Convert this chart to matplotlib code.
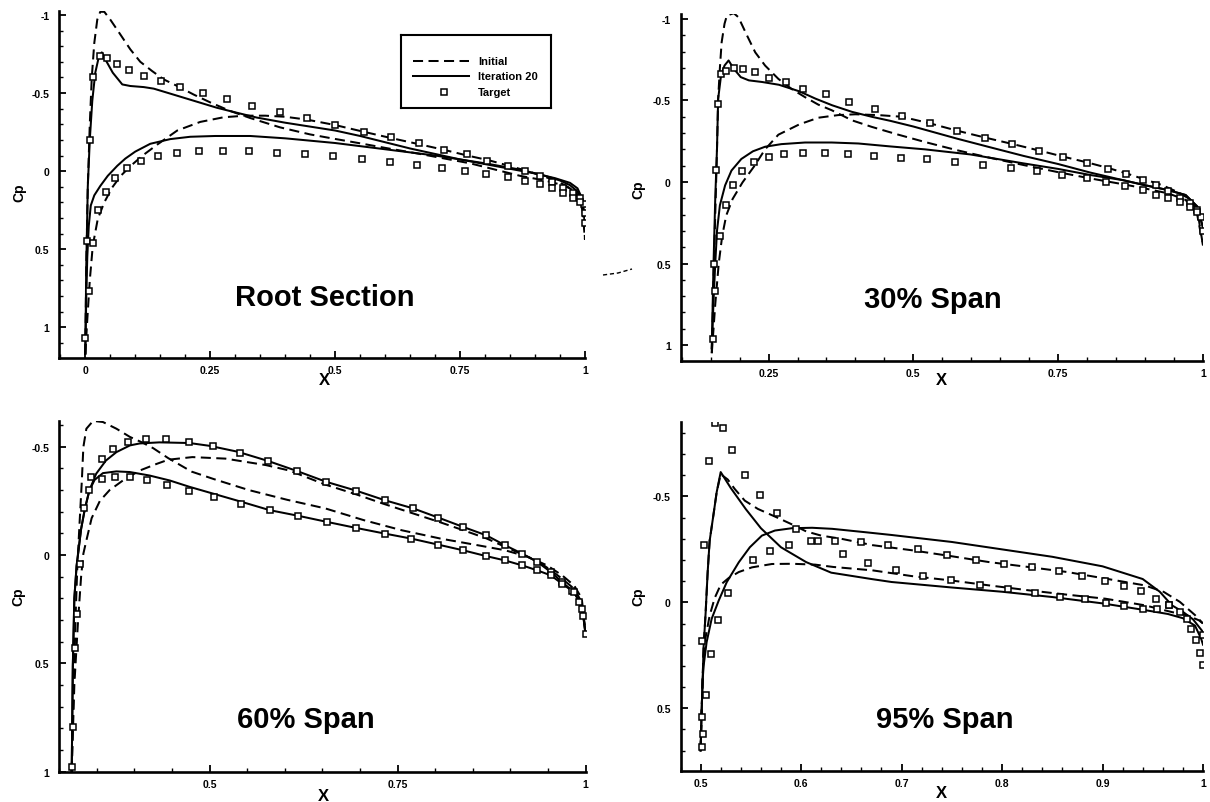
import matplotlib
matplotlib.use('Agg')
import matplotlib.pyplot as plt
from matplotlib.ticker import MultipleLocator, FuncFormatter
from matplotlib.lines import Line2D

plt.rcParams['font.family'] = ['Liberation Sans', 'DejaVu Sans']

# ---------------- data ----------------
series_labels = ['Initial', 'Iteration 20', 'Target']
panel_titles = ['Root Section', '30% Span', '60% Span', '95% Span']

# Root section
root_init_up_x = [0.0, 0.002, 0.005, 0.009, 0.013, 0.018, 0.024, 0.030, 0.038, 0.050, 0.068, 0.090, 0.110, 0.134, 0.157, 0.184, 0.217, 0.250, 0.290, 0.330, 0.390, 0.450, 0.500, 0.550, 0.600, 0.670, 0.720, 0.770, 0.820, 0.870, 0.920, 0.950, 0.970, 0.985, 0.995, 1.0]
root_init_up_cp = [1.17, 0.60, 0.10, -0.30, -0.60, -0.82, -0.97, -1.02, -1.02, -0.97, -0.885, -0.78, -0.70, -0.64, -0.587, -0.545, -0.49, -0.44, -0.385, -0.34, -0.28, -0.235, -0.206, -0.178, -0.149, -0.11, -0.08, -0.05, -0.01, 0.03, 0.06, 0.085, 0.11, 0.15, 0.25, 0.44]
root_init_lo_x = [0.0, 0.004, 0.009, 0.015, 0.025, 0.038, 0.054, 0.071, 0.091, 0.114, 0.144, 0.184, 0.230, 0.277, 0.320, 0.360, 0.400, 0.443, 0.500, 0.557, 0.613, 0.667, 0.717, 0.767, 0.807, 0.847, 0.880, 0.910, 0.940, 0.960, 0.980, 0.990, 0.997, 1.0]
root_init_lo_cp = [1.17, 0.95, 0.70, 0.477, 0.306, 0.20, 0.104, 0.03, -0.034, -0.098, -0.17, -0.26, -0.315, -0.345, -0.355, -0.355, -0.348, -0.33, -0.295, -0.252, -0.211, -0.173, -0.137, -0.098, -0.07, -0.035, -0.005, 0.025, 0.06, 0.09, 0.13, 0.18, 0.26, 0.44]
root_iter_up_x = [0.0, 0.002, 0.005, 0.009, 0.014, 0.020, 0.027, 0.033, 0.041, 0.055, 0.074, 0.090, 0.117, 0.137, 0.164, 0.197, 0.230, 0.263, 0.303, 0.343, 0.400, 0.450, 0.500, 0.550, 0.600, 0.650, 0.700, 0.750, 0.800, 0.850, 0.900, 0.940, 0.970, 0.985, 0.995, 1.0]
root_iter_up_cp = [1.17, 0.60, 0.10, -0.20, -0.45, -0.63, -0.73, -0.76, -0.71, -0.63, -0.555, -0.545, -0.538, -0.528, -0.502, -0.47, -0.438, -0.406, -0.374, -0.343, -0.31, -0.285, -0.26, -0.225, -0.185, -0.145, -0.11, -0.075, -0.045, -0.015, 0.015, 0.045, 0.075, 0.11, 0.18, 0.33]
root_iter_lo_x = [0.0, 0.002, 0.004, 0.007, 0.011, 0.018, 0.030, 0.045, 0.064, 0.080, 0.100, 0.130, 0.170, 0.210, 0.260, 0.330, 0.400, 0.500, 0.600, 0.700, 0.800, 0.870, 0.920, 0.950, 0.970, 0.985, 0.995, 1.0]
root_iter_lo_cp = [1.17, 0.80, 0.55, 0.35, 0.22, 0.155, 0.095, 0.03, -0.034, -0.08, -0.125, -0.175, -0.205, -0.22, -0.225, -0.225, -0.21, -0.18, -0.14, -0.10, -0.05, -0.01, 0.03, 0.06, 0.09, 0.13, 0.20, 0.33]
root_tgt_up_x = [0.0, 0.003, 0.010, 0.016, 0.030, 0.044, 0.064, 0.088, 0.117, 0.152, 0.190, 0.235, 0.283, 0.334, 0.389, 0.443, 0.500, 0.557, 0.611, 0.668, 0.717, 0.764, 0.804, 0.845, 0.880, 0.910, 0.933, 0.956, 0.975, 0.990, 0.998, 1.0]
root_tgt_up_cp = [1.07, 0.445, -0.20, -0.60, -0.735, -0.725, -0.683, -0.648, -0.61, -0.58, -0.54, -0.502, -0.46, -0.418, -0.377, -0.34, -0.295, -0.252, -0.22, -0.18, -0.137, -0.107, -0.066, -0.034, 0.0, 0.03, 0.068, 0.105, 0.137, 0.17, 0.21, 0.33]
root_tgt_lo_x = [0.007, 0.015, 0.025, 0.041, 0.060, 0.084, 0.112, 0.145, 0.184, 0.228, 0.275, 0.328, 0.383, 0.439, 0.496, 0.554, 0.610, 0.663, 0.714, 0.760, 0.802, 0.845, 0.880, 0.910, 0.933, 0.955, 0.975, 0.990, 1.0]
root_tgt_lo_cp = [0.77, 0.46, 0.247, 0.132, 0.047, -0.017, -0.062, -0.098, -0.117, -0.128, -0.13, -0.128, -0.119, -0.109, -0.094, -0.075, -0.058, -0.04, -0.017, 0.0, 0.02, 0.04, 0.062, 0.085, 0.11, 0.137, 0.17, 0.20, 0.265]

# 30% span
s30_init_up_x = [0.152, 0.155, 0.158, 0.161, 0.163, 0.166, 0.169, 0.174, 0.178, 0.190, 0.198, 0.213, 0.227, 0.244, 0.267, 0.290, 0.313, 0.336, 0.359, 0.394, 0.428, 0.474, 0.520, 0.575, 0.630, 0.690, 0.750, 0.805, 0.862, 0.900, 0.940, 0.970, 0.990, 1.0]
s30_init_up_cp = [1.05, 0.60, 0.20, -0.20, -0.51, -0.70, -0.856, -0.97, -1.02, -1.035, -1.01, -0.897, -0.795, -0.714, -0.632, -0.57, -0.52, -0.474, -0.44, -0.378, -0.338, -0.29, -0.245, -0.195, -0.15, -0.104, -0.06, -0.022, 0.014, 0.04, 0.07, 0.11, 0.20, 0.39]
s30_init_lo_x = [0.152, 0.158, 0.164, 0.170, 0.177, 0.188, 0.205, 0.226, 0.244, 0.267, 0.303, 0.336, 0.370, 0.400, 0.440, 0.480, 0.528, 0.575, 0.624, 0.672, 0.717, 0.759, 0.800, 0.837, 0.870, 0.900, 0.930, 0.955, 0.975, 0.990, 1.0]
s30_init_lo_cp = [1.05, 0.75, 0.50, 0.33, 0.205, 0.104, 0.003, -0.10, -0.20, -0.29, -0.353, -0.394, -0.41, -0.415, -0.41, -0.40, -0.36, -0.315, -0.272, -0.232, -0.193, -0.155, -0.12, -0.085, -0.05, -0.015, 0.02, 0.06, 0.10, 0.17, 0.39]
s30_iter_up_x = [0.152, 0.155, 0.158, 0.161, 0.163, 0.168, 0.174, 0.181, 0.190, 0.202, 0.216, 0.239, 0.268, 0.303, 0.331, 0.360, 0.394, 0.429, 0.460, 0.500, 0.575, 0.630, 0.690, 0.750, 0.805, 0.862, 0.900, 0.940, 0.970, 0.990, 1.0]
s30_iter_up_cp = [1.02, 0.505, 0.10, -0.205, -0.51, -0.653, -0.714, -0.745, -0.694, -0.643, -0.623, -0.613, -0.596, -0.556, -0.511, -0.47, -0.43, -0.399, -0.375, -0.34, -0.266, -0.215, -0.16, -0.11, -0.058, -0.011, 0.02, 0.05, 0.08, 0.15, 0.28]
s30_iter_lo_x = [0.152, 0.155, 0.158, 0.161, 0.166, 0.175, 0.186, 0.203, 0.223, 0.244, 0.272, 0.313, 0.359, 0.405, 0.460, 0.520, 0.598, 0.690, 0.750, 0.805, 0.862, 0.900, 0.940, 0.970, 0.990, 1.0]
s30_iter_lo_cp = [1.02, 0.73, 0.50, 0.30, 0.143, 0.021, -0.07, -0.141, -0.188, -0.216, -0.232, -0.242, -0.242, -0.236, -0.218, -0.20, -0.169, -0.114, -0.08, -0.043, -0.011, 0.02, 0.05, 0.08, 0.15, 0.28]
s30_tgt_up_x = [0.154, 0.155, 0.160, 0.163, 0.168, 0.177, 0.190, 0.206, 0.226, 0.250, 0.280, 0.310, 0.349, 0.389, 0.434, 0.480, 0.528, 0.575, 0.623, 0.670, 0.717, 0.758, 0.800, 0.836, 0.867, 0.896, 0.919, 0.940, 0.960, 0.977, 0.990, 0.997]
s30_tgt_up_cp = [0.96, 0.50, -0.073, -0.48, -0.66, -0.68, -0.70, -0.69, -0.672, -0.64, -0.614, -0.573, -0.538, -0.493, -0.45, -0.406, -0.359, -0.313, -0.27, -0.23, -0.19, -0.153, -0.117, -0.08, -0.049, -0.012, 0.018, 0.055, 0.096, 0.13, 0.171, 0.212]
s30_tgt_lo_x = [0.157, 0.166, 0.176, 0.188, 0.205, 0.225, 0.250, 0.277, 0.310, 0.348, 0.388, 0.432, 0.478, 0.524, 0.572, 0.620, 0.668, 0.713, 0.756, 0.799, 0.833, 0.866, 0.896, 0.919, 0.940, 0.960, 0.977, 0.990, 1.0]
s30_tgt_lo_cp = [0.67, 0.333, 0.14, 0.018, -0.069, -0.12, -0.155, -0.171, -0.177, -0.177, -0.169, -0.159, -0.15, -0.14, -0.124, -0.106, -0.087, -0.065, -0.043, -0.022, 0.0, 0.022, 0.049, 0.08, 0.10, 0.124, 0.151, 0.182, 0.30]

# 60% span
s60_init_up_x = [0.3165, 0.318, 0.320, 0.322, 0.324, 0.327, 0.330, 0.332, 0.336, 0.345, 0.358, 0.376, 0.394, 0.410, 0.425, 0.445, 0.476, 0.506, 0.552, 0.603, 0.654, 0.705, 0.756, 0.807, 0.857, 0.893, 0.924, 0.949, 0.969, 0.985, 0.995, 1.0]
s60_init_up_cp = [1.0, 0.75, 0.50, 0.25, 0.05, -0.15, -0.344, -0.498, -0.583, -0.619, -0.614, -0.583, -0.545, -0.52, -0.493, -0.447, -0.385, -0.35, -0.30, -0.255, -0.215, -0.161, -0.114, -0.076, -0.045, -0.022, 0.009, 0.048, 0.094, 0.141, 0.20, 0.357]
s60_init_lo_x = [0.3165, 0.320, 0.325, 0.329, 0.332, 0.336, 0.343, 0.354, 0.367, 0.385, 0.407, 0.429, 0.445, 0.477, 0.521, 0.575, 0.606, 0.654, 0.695, 0.730, 0.768, 0.806, 0.837, 0.868, 0.893, 0.918, 0.939, 0.954, 0.969, 0.985, 0.995, 1.0]
s60_init_lo_cp = [1.0, 0.60, 0.30, 0.10, -0.006, -0.067, -0.17, -0.25, -0.30, -0.345, -0.39, -0.42, -0.44, -0.452, -0.445, -0.415, -0.39, -0.325, -0.28, -0.238, -0.195, -0.152, -0.115, -0.077, -0.038, 0.0, 0.035, 0.07, 0.11, 0.156, 0.218, 0.357]
s60_iter_up_x = [0.3165, 0.318, 0.320, 0.323, 0.325, 0.329, 0.334, 0.340, 0.349, 0.362, 0.376, 0.394, 0.407, 0.433, 0.473, 0.500, 0.537, 0.577, 0.616, 0.655, 0.695, 0.733, 0.771, 0.804, 0.837, 0.868, 0.893, 0.916, 0.936, 0.954, 0.969, 0.985, 0.992, 0.997, 1.0]
s60_iter_up_cp = [1.0, 0.51, 0.20, 0.05, -0.006, -0.12, -0.213, -0.298, -0.375, -0.436, -0.475, -0.506, -0.515, -0.52, -0.517, -0.504, -0.477, -0.435, -0.388, -0.338, -0.297, -0.253, -0.215, -0.173, -0.13, -0.091, -0.045, -0.006, 0.032, 0.079, 0.125, 0.172, 0.218, 0.28, 0.365]
s60_iter_lo_x = [0.3165, 0.318, 0.320, 0.323, 0.325, 0.329, 0.334, 0.340, 0.347, 0.358, 0.376, 0.394, 0.420, 0.447, 0.473, 0.506, 0.542, 0.580, 0.618, 0.656, 0.695, 0.733, 0.768, 0.804, 0.837, 0.868, 0.893, 0.916, 0.936, 0.954, 0.969, 0.985, 0.992, 0.997, 1.0]
s60_iter_lo_cp = [1.0, 0.51, 0.20, 0.05, -0.006, -0.12, -0.213, -0.298, -0.347, -0.378, -0.386, -0.383, -0.367, -0.344, -0.315, -0.282, -0.246, -0.207, -0.181, -0.153, -0.125, -0.099, -0.076, -0.048, -0.022, 0.005, 0.025, 0.048, 0.071, 0.094, 0.133, 0.172, 0.218, 0.28, 0.365]
s60_tgt_up_x = [0.317, 0.318, 0.321, 0.323, 0.327, 0.333, 0.342, 0.357, 0.372, 0.392, 0.416, 0.442, 0.472, 0.505, 0.540, 0.578, 0.616, 0.655, 0.695, 0.733, 0.771, 0.804, 0.837, 0.868, 0.893, 0.916, 0.936, 0.954, 0.969, 0.982, 0.992, 0.997, 1.0]
s60_tgt_up_cp = [0.98, 0.794, 0.43, 0.27, 0.042, -0.215, -0.36, -0.442, -0.488, -0.524, -0.535, -0.535, -0.524, -0.501, -0.473, -0.435, -0.388, -0.338, -0.297, -0.253, -0.215, -0.173, -0.13, -0.091, -0.045, -0.006, 0.032, 0.079, 0.125, 0.164, 0.218, 0.28, 0.365]
s60_tgt_lo_x = [0.340, 0.357, 0.374, 0.394, 0.417, 0.443, 0.473, 0.506, 0.542, 0.580, 0.618, 0.656, 0.695, 0.733, 0.768, 0.804, 0.837, 0.868, 0.893, 0.916, 0.936, 0.954, 0.969, 0.985, 0.995]
s60_tgt_lo_cp = [-0.30, -0.35, -0.361, -0.358, -0.346, -0.324, -0.297, -0.267, -0.236, -0.207, -0.181, -0.153, -0.125, -0.099, -0.076, -0.048, -0.022, 0.005, 0.025, 0.048, 0.071, 0.094, 0.133, 0.172, 0.25]

# 95% span
s95_init_up_x = [0.500, 0.501, 0.502, 0.503, 0.505, 0.507, 0.509, 0.513, 0.516, 0.520, 0.527, 0.534, 0.544, 0.557, 0.574, 0.590, 0.605, 0.620, 0.640, 0.671, 0.710, 0.748, 0.787, 0.826, 0.865, 0.903, 0.942, 0.961, 0.977, 0.992, 1.0]
s95_init_up_cp = [0.70, 0.52, 0.37, 0.21, 0.05, -0.14, -0.29, -0.42, -0.52, -0.605, -0.58, -0.535, -0.48, -0.441, -0.405, -0.37, -0.335, -0.315, -0.30, -0.27, -0.246, -0.219, -0.19, -0.167, -0.143, -0.112, -0.08, -0.049, -0.002, 0.06, 0.10]
s95_init_lo_x = [0.500, 0.501, 0.502, 0.503, 0.504, 0.509, 0.514, 0.520, 0.528, 0.538, 0.551, 0.571, 0.591, 0.614, 0.632, 0.671, 0.710, 0.748, 0.787, 0.826, 0.865, 0.903, 0.942, 0.969, 0.984, 0.996, 1.0]
s95_init_lo_cp = [0.70, 0.52, 0.37, 0.25, 0.19, 0.063, -0.02, -0.083, -0.115, -0.143, -0.165, -0.181, -0.182, -0.178, -0.167, -0.151, -0.124, -0.104, -0.08, -0.057, -0.036, -0.017, 0.014, 0.046, 0.061, 0.085, 0.10]
s95_iter_up_x = [0.500, 0.501, 0.502, 0.503, 0.505, 0.507, 0.509, 0.513, 0.516, 0.520, 0.530, 0.545, 0.560, 0.580, 0.605, 0.630, 0.670, 0.690, 0.750, 0.800, 0.850, 0.900, 0.940, 0.965, 0.980, 0.992, 0.998, 1.0]
s95_iter_up_cp = [0.70, 0.52, 0.37, 0.21, 0.05, -0.14, -0.29, -0.42, -0.52, -0.615, -0.54, -0.44, -0.35, -0.26, -0.19, -0.14, -0.11, -0.096, -0.07, -0.05, -0.025, 0.005, 0.035, 0.055, 0.075, 0.11, 0.17, 0.20]
s95_iter_lo_x = [0.500, 0.501, 0.502, 0.503, 0.506, 0.511, 0.518, 0.526, 0.538, 0.549, 0.561, 0.574, 0.591, 0.611, 0.631, 0.664, 0.690, 0.750, 0.800, 0.850, 0.900, 0.940, 0.957, 0.969, 0.980, 0.990, 1.0]
s95_iter_lo_cp = [0.70, 0.52, 0.37, 0.30, 0.188, 0.078, -0.008, -0.095, -0.189, -0.26, -0.315, -0.339, -0.35, -0.352, -0.347, -0.331, -0.318, -0.285, -0.25, -0.215, -0.17, -0.11, -0.05, 0.014, 0.045, 0.08, 0.14]
s95_tgt_up_x = [0.501, 0.501, 0.501, 0.503, 0.508, 0.514, 0.522, 0.531, 0.544, 0.559, 0.576, 0.595, 0.610, 0.642, 0.667, 0.694, 0.721, 0.749, 0.778, 0.806, 0.833, 0.858, 0.883, 0.903, 0.921, 0.940, 0.954, 0.966]
s95_tgt_up_cp = [0.681, 0.54, 0.184, -0.269, -0.665, -0.846, -0.824, -0.717, -0.599, -0.505, -0.422, -0.348, -0.289, -0.23, -0.184, -0.151, -0.123, -0.104, -0.083, -0.061, -0.044, -0.025, -0.014, 0.002, 0.015, 0.03, 0.033, 0.011]
s95_tgt_lo_x = [0.502, 0.505, 0.510, 0.517, 0.527, 0.552, 0.569, 0.588, 0.617, 0.634, 0.660, 0.687, 0.716, 0.745, 0.774, 0.802, 0.830, 0.857, 0.880, 0.902, 0.921, 0.938, 0.953, 0.966, 0.977, 0.984, 0.988, 0.993, 0.997, 1.0, 1.0]
s95_tgt_lo_cp = [0.622, 0.438, 0.245, 0.082, -0.044, -0.198, -0.242, -0.272, -0.29, -0.29, -0.286, -0.273, -0.25, -0.222, -0.201, -0.182, -0.166, -0.146, -0.124, -0.102, -0.077, -0.052, -0.017, 0.014, 0.046, 0.077, 0.124, 0.18, 0.238, 0.298, 0.153]

# tick values per panel
root_xticks = [0, 0.25, 0.5, 0.75, 1]
s30_xticks = [0.25, 0.5, 0.75, 1]
s60_xticks = [0.5, 0.75, 1]
s95_xticks = [0.5, 0.6, 0.7, 0.8, 0.9, 1]
root_yticks = [-1, -0.5, 0, 0.5, 1]
s30_yticks = [-1, -0.5, 0, 0.5, 1]
s60_yticks = [-0.5, 0, 0.5, 1]
s95_yticks = [-0.5, 0, 0.5]

# ---------------- layout / style ----------------
W, H = 1210, 803
fig = plt.figure(figsize=(W / 100, H / 100), dpi=100)

panels = [
    dict(rect=(59.3, 12.0, 585.0, 359.3), xlim=(-0.052, 1.0), ylim=(1.198, -1.025),
         xmin=0.05, ymin=0.1, xt=root_xticks, yt=root_yticks, title_pos=(0.504, 0.176),
         cp=(-0.076, 0.479), xl=(0.504, -0.06),
         data=(root_init_up_x, root_init_up_cp, root_init_lo_x, root_init_lo_cp,
               root_iter_up_x, root_iter_up_cp, root_iter_lo_x, root_iter_lo_cp,
               root_tgt_up_x, root_tgt_up_cp, root_tgt_lo_x, root_tgt_lo_cp)),
    dict(rect=(680.5, 15.0, 1203.0, 361.7), xlim=(0.098, 1.0), ylim=(1.096, -1.03),
         xmin=0.05, ymin=0.1, xt=s30_xticks, yt=s30_yticks, title_pos=(0.483, 0.178),
         cp=(-0.08, 0.495), xl=(0.5, -0.053),
         data=(s30_init_up_x, s30_init_up_cp, s30_init_lo_x, s30_init_lo_cp,
               s30_iter_up_x, s30_iter_up_cp, s30_iter_lo_x, s30_iter_lo_cp,
               s30_tgt_up_x, s30_tgt_up_cp, s30_tgt_lo_x, s30_tgt_lo_cp)),
    dict(rect=(59.3, 421.7, 585.5, 772.7), xlim=(0.30, 1.0), ylim=(1.0, -0.62),
         xmin=0.05, ymin=0.1, xt=s60_xticks, yt=s60_yticks, title_pos=(0.469, 0.15),
         cp=(-0.078, 0.501), xl=(0.502, -0.068),
         data=(s60_init_up_x, s60_init_up_cp, s60_init_lo_x, s60_init_lo_cp,
               s60_iter_up_x, s60_iter_up_cp, s60_iter_lo_x, s60_iter_lo_cp,
               s60_tgt_up_x, s60_tgt_up_cp, s60_tgt_lo_x, s60_tgt_lo_cp)),
    dict(rect=(680.5, 423.3, 1203.0, 771.7), xlim=(0.48, 1.0), ylim=(0.795, -0.85),
         xmin=0.02, ymin=0.1, xt=s95_xticks, yt=s95_yticks, title_pos=(0.505, 0.148),
         cp=(-0.08, 0.502), xl=(0.5, -0.062),
         data=(s95_init_up_x, s95_init_up_cp, s95_init_lo_x, s95_init_lo_cp,
               s95_iter_up_x, s95_iter_up_cp, s95_iter_lo_x, s95_iter_lo_cp,
               s95_tgt_up_x, s95_tgt_up_cp, s95_tgt_lo_x, s95_tgt_lo_cp)),
]

LW = 1.45
DASH = (5, 2.7)
fmt = FuncFormatter(lambda v, p: '%g' % v)

for i, p in enumerate(panels):
    l, t, r, b = p['rect']
    ax = fig.add_axes([l / W, 1 - b / H, (r - l) / W, (b - t) / H])
    (iux, iuc, ilx, ilc, tux, tuc, tlx, tlc, gux, guc, glx, glc) = p['data']
    ax.plot(iux, iuc, color='black', lw=LW, dashes=DASH)
    ax.plot(ilx, ilc, color='black', lw=LW, dashes=DASH)
    ax.plot(tux, tuc, color='black', lw=LW)
    ax.plot(tlx, tlc, color='black', lw=LW)
    for gx, gc in ((gux, guc), (glx, glc)):
        ax.plot(gx, gc, ls='none', marker='s', ms=4.3, mfc='white', mec='black', mew=1.1, zorder=5)
    ax.set_xlim(*p['xlim'])
    ax.set_ylim(*p['ylim'])
    ax.set_xticks(p['xt'])
    ax.set_yticks(p['yt'])
    ax.xaxis.set_minor_locator(MultipleLocator(p['xmin']))
    ax.yaxis.set_minor_locator(MultipleLocator(p['ymin']))
    ax.xaxis.set_major_formatter(fmt)
    ax.yaxis.set_major_formatter(fmt)
    for s in ('top', 'right'):
        ax.spines[s].set_visible(False)
    for s in ('left', 'bottom'):
        ax.spines[s].set_linewidth(1.9)
    ax.tick_params(which='major', direction='in', length=5, width=1.3, labelsize=7.5, pad=5)
    ax.tick_params(which='minor', direction='in', length=2.8, width=1.0)
    ax.tick_params(axis='y', which='major', pad=7)
    for lab in ax.get_xticklabels() + ax.get_yticklabels():
        lab.set_fontweight('bold')
    ax.text(p['title_pos'][0], p['title_pos'][1], panel_titles[i], transform=ax.transAxes,
            ha='center', va='center', fontsize=21, fontweight='bold')
    ax.text(p['cp'][0], p['cp'][1], 'Cp', transform=ax.transAxes, rotation=90,
            ha='center', va='center', fontsize=10, fontweight='bold')
    ax.text(p['xl'][0], p['xl'][1], 'X', transform=ax.transAxes,
            ha='center', va='center', fontsize=12, fontweight='bold')
    ax.set_facecolor('none')

# legend (root section panel)
lx0, ly0, lx1, ly1 = 400.7, 36.0, 551.0, 109.3
lax = fig.add_axes([lx0 / W, 1 - ly1 / H, (lx1 - lx0) / W, (ly1 - ly0) / H])
lax.set_xlim(0, lx1 - lx0)
lax.set_ylim(ly1 - ly0, 0)
lax.set_xticks([])
lax.set_yticks([])
for s in lax.spines.values():
    s.set_linewidth(1.5)
rows = [25.7, 41.3, 56.7]
lax.plot([12.3, 68.3], [rows[0], rows[0]], color='black', lw=LW, dashes=DASH)
lax.plot([12.3, 68.3], [rows[1], rows[1]], color='black', lw=LW)
lax.plot([43.3], [rows[2]], ls='none', marker='s', ms=4.3, mfc='white', mec='black', mew=1.1)
for yy, lab in zip(rows, series_labels):
    lax.text(77.3, yy, lab, ha='left', va='center', fontsize=8, fontweight='bold')

# small stray scan mark left of the 30% span panel
fig.add_artist(Line2D([603 / W, 618 / W, 632 / W], [1 - 276 / H, 1 - 274 / H, 1 - 270 / H],
                      color='black', lw=1.0, dashes=(3, 2)))

fig.savefig('out.png', dpi=100)
